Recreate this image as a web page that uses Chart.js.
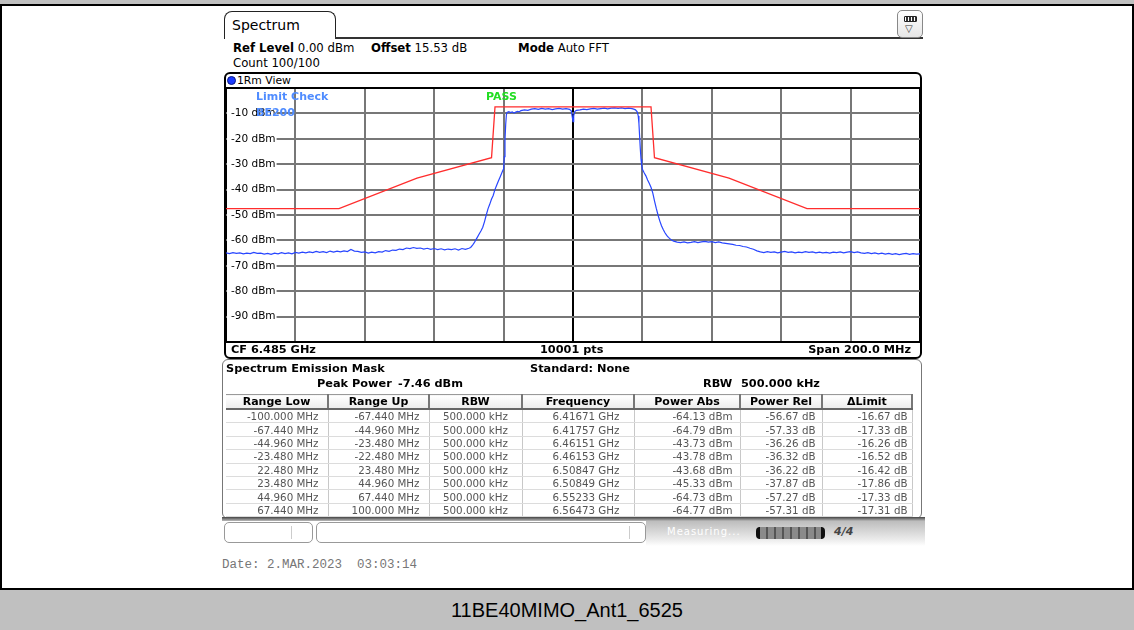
<!DOCTYPE html>
<html>
<head>
<meta charset="utf-8">
<title>11BE40MIMO_Ant1_6525</title>
<script src="https://cdn.jsdelivr.net/npm/chart.js@4.4.1/dist/chart.umd.min.js"></script>
<style>
  html, body { margin: 0; padding: 0; background: #fff; }
  body { position: relative; width: 1134px; height: 630px; overflow: hidden; font-family: "DejaVu Sans", Verdana, sans-serif; color: #000; }
  div, span, table { box-sizing: border-box; }
  .a { position: absolute; white-space: nowrap; }
  .b { font-weight: bold; }

  #frameTop { left: 0; top: 0; width: 1134px; height: 6px; background: #c0c0c0; border-bottom: 2px solid #000; }
  #frameL { left: 0; top: 6px; width: 2px; height: 584px; background: #000; }
  #frameR { left: 1132px; top: 6px; width: 2px; height: 584px; background: #000; }
  #caption { left: 0; top: 588px; width: 1134px; height: 42px; background: #c0c0c0; border-top: 2px solid #000;
             font: 20px "Liberation Sans", Arial, sans-serif; text-align: center; line-height: 41px; }

  #tab { left: 224px; top: 11px; width: 112px; height: 28px; border: 1.5px solid #222; border-bottom: none;
         border-radius: 8px 8px 0 0; font-size: 14px; padding-left: 7px; line-height: 26px; }
  #tabLine { left: 335px; top: 37px; width: 588px; height: 1.5px; background: #333; }
  #icon { left: 897px; top: 10px; width: 26px; height: 28px; border: 1px solid #888; border-radius: 5px;
          background: linear-gradient(#fff, #e6e6e6); }
  #icon .bat { position: absolute; left: 6px; top: 5px; width: 13px; height: 6px; background: #333;
               border: 1px solid #222; border-radius: 1px;
               background-image: repeating-linear-gradient(to right, #fff 0 1px, #333 1px 3px); }
  #icon .tri { position: absolute; left: 7px; top: 12px; font-size: 10px; color: #333; }

  .hdr { font-size: 11.7px; line-height: 14px; }

  #view { left: 224px; top: 72px; width: 698px; height: 287px; border: 2px solid #000; border-radius: 6px; }
  #dot { left: 227px; top: 76px; width: 9px; height: 9px; border-radius: 50%; background: #1d3cff; border: 1px solid #0a1a80; }
  #viewTitle { left: 237px; top: 74px; font-size: 10.8px; line-height: 14px; }
  #plot { left: 224px; top: 86px; width: 698px; height: 258px; }
  .cf { font-size: 11.3px; line-height: 14px; top: 343px; font-weight: bold; }

  .lim { font-size: 11px; font-weight: bold; line-height: 14px; }

  #tpanel { left: 222px; top: 359px; width: 700px; height: 160px; border: 1.5px solid #777; border-radius: 6px; }
  .tt { font-size: 11.3px; font-weight: bold; line-height: 14px; }
  #sem { position: absolute; left: 226px; top: 394px; border-collapse: collapse; table-layout: fixed; width: 686px; }
  #sem th { height: 13px; padding: 0; font-size: 11px; font-weight: bold; text-align: center; line-height: 13px;
            border-top: 1px solid #999; border-bottom: 2px solid #666; border-right: 2px solid #777;
            background: linear-gradient(#fff, #ececec); }
  #sem td { height: 12.4px; padding: 0; font-size: 10.3px; color: #555; text-align: right; line-height: 12px;
            border-right: 1px solid #c8c8c8; border-bottom: 1px solid #dcdcdc; }

  #statusEdge { left: 222px; top: 517px; width: 703px; height: 4px; background: linear-gradient(#444, #bbb); }
  .sbox { top: 522px; height: 21px; border: 1px solid #999; border-radius: 5px; background: #fff; }
  .sdiv { top: 526px; width: 1px; height: 13px; background: #ccc; }
  #meas { left: 646px; top: 521px; width: 279px; height: 25px;
          background: linear-gradient(to bottom, #bdbdbd, #ececec 75%, #fff); }
  #measTxt { left: 667px; top: 525px; font-size: 10px; color: #fff; letter-spacing: 1px; line-height: 14px; }
  #prog { left: 756px; top: 527px; width: 69px; height: 12px; border-radius: 4px; background: #2a2a2a;
          border-left: 4px solid #111; border-right: 4px solid #111;
          background-image: repeating-linear-gradient(to right, #8a8a8a 0 6px, #555 6px 8px); }
  #glyph { left: 834px; top: 525px; font-size: 11px; font-weight: bold; font-style: italic; color: #444; line-height: 14px; }

  #date { left: 222px; top: 557px; font: 12.5px "Liberation Mono", "DejaVu Sans Mono", monospace; color: #777; line-height: 16px; }
</style>
</head>
<body>
<script>
// Spectrum emission mask (limit line), offset from CF in MHz vs dBm
const limitFreq = [-100, -67.44, -44.96, -23.48, -22.48, 22.48, 23.48, 44.96, 67.44, 100];
const limitLevel = [-47.46, -47.46, -35.46, -27.46, -7.46, -7.46, -27.46, -35.46, -47.46, -47.46];

// 1Rm trace, offset from CF in MHz
const traceFreq = [
  -100, -99, -98, -97, -96, -95, -94, -93, -92, -91,
  -90, -89, -88, -87, -86, -85, -84, -83, -82, -81,
  -80, -79, -78, -77, -76, -75, -74, -73, -72, -71,
  -70, -69, -68, -67, -66, -65, -64, -63, -62, -61,
  -60, -59, -58, -57, -56, -55, -54, -53, -52, -51,
  -50, -49, -48, -47, -46, -45, -44, -43, -42, -41,
  -40, -39, -38, -37, -36, -35, -34, -33, -32, -31,
  -30, -29.5, -29, -28.5, -28, -27.5, -27, -26.5, -26, -25.5,
  -25, -24.5, -24, -23.5, -23, -22.5, -22, -21.5, -21, -20.5,
  -20, -19.8, -19.6, -19.4, -19.2, -19, -18.5, -18, -17.5, -17,
  -16.5, -16, -15.5, -15, -14, -13, -12, -11, -10, -9,
  -8, -7, -6, -5, -4, -3, -2, -1, -0.5, -0.2,
  0, 0.2, 0.5, 1, 2, 3, 4, 5, 6, 7,
  8, 9, 10, 11, 12, 13, 14, 15, 16, 17,
  17.5, 18, 18.5, 18.8, 19, 19.2, 19.4, 19.6, 19.8, 20,
  20.5, 21, 21.5, 22, 22.5, 23, 23.5, 24, 24.5, 25,
  25.5, 26, 26.5, 27, 27.5, 28, 28.5, 29, 30, 31,
  32, 33, 34, 35, 36, 37, 38, 39, 40, 41,
  42, 43, 44, 45, 46, 47, 48, 49, 50, 51,
  52, 53, 54, 55, 56, 57, 58, 59, 60, 61,
  62, 63, 64, 65, 66, 67, 68, 69, 70, 71,
  72, 73, 74, 75, 76, 77, 78, 79, 80, 81,
  82, 83, 84, 85, 86, 87, 88, 89, 90, 91,
  92, 93, 94, 95, 96, 97, 98, 99, 100
];
const traceLevel = [
  -64.9, -65.2, -64.8, -65.1, -64.9, -65.3, -65.0, -65.2, -64.7, -65.1,
  -65.0, -65.4, -65.1, -65.5, -65.0, -65.3, -64.8, -65.2, -64.9, -65.3,
  -64.7, -65.0, -64.6, -64.9, -64.5, -64.8, -64.3, -64.7, -64.4, -64.8,
  -64.2, -64.6, -64.2, -64.5, -64.1, -64.4, -63.6, -64.2, -64.3, -64.7,
  -64.5, -65.0, -64.6, -64.9, -64.4, -64.6, -64.0, -64.3, -63.8, -63.9,
  -63.4, -63.6, -63.0, -63.2, -62.8, -63.1, -63.0, -63.4, -63.1, -63.5,
  -63.2, -63.6, -63.3, -63.7, -63.4, -63.6, -63.3, -63.8, -63.2, -63.5,
  -63.1, -62.8, -62.0, -61.0, -59.8, -58.6, -57.4, -56.2, -54.8, -52.6,
  -50.0, -47.6, -45.8, -43.8, -42.3, -40.0, -38.3, -36.6, -35.0, -33.4,
  -31.8, -27.0, -20.5, -14.5, -10.6, -9.6, -9.3, -9.7, -9.4, -9.9,
  -9.5, -9.2, -9.4, -8.9, -8.6, -8.8, -8.3, -8.1, -8.4, -8.0,
  -8.3, -8.1, -8.5, -8.2, -8.0, -8.3, -8.1, -8.4, -9.0, -11.5,
  -13.2, -11.0, -9.3, -8.8, -8.6, -8.3, -8.5, -8.2, -8.0, -8.3,
  -8.1, -7.9, -8.2, -7.9, -7.8, -8.0, -7.8, -8.1, -7.9, -8.1,
  -8.3, -8.6, -9.4, -11.0, -14.0, -19.0, -24.0, -28.0, -30.5, -32.0,
  -33.4, -34.6, -36.2, -37.6, -39.2, -41.4, -44.5, -47.4, -50.0, -52.3,
  -54.2, -55.7, -57.0, -58.0, -58.8, -59.4, -59.9, -60.3, -60.7, -60.9,
  -60.6, -61.0, -60.8, -60.5, -60.9, -60.6, -60.4, -60.7, -60.5, -60.9,
  -60.6, -61.0, -61.2, -61.4, -61.6, -61.9, -62.0, -62.4, -62.6, -63.1,
  -63.5, -64.1, -64.5, -64.8, -64.4, -64.7, -64.5, -64.9, -64.6, -64.3,
  -64.7, -64.5, -64.9, -64.6, -64.8, -64.4, -64.7, -64.5, -64.9, -64.6,
  -64.9, -64.7, -65.0, -64.6, -64.8, -64.5, -64.9, -64.6, -64.4, -64.8,
  -64.5, -64.9, -65.1, -64.8, -65.2, -64.9, -65.3, -65.0, -65.4, -65.1,
  -65.5, -65.2, -65.6, -65.3, -65.1, -65.5, -65.2, -65.4, -65.3
];

// SEM result table
const semHeaders = ['Range Low', 'Range Up', 'RBW', 'Frequency', 'Power Abs', 'Power Rel', '\u0394Limit'];
const rangeLow = ['-100.000 MHz', '-67.440 MHz', '-44.960 MHz', '-23.480 MHz', '22.480 MHz', '23.480 MHz', '44.960 MHz', '67.440 MHz'];
const rangeUp = ['-67.440 MHz', '-44.960 MHz', '-23.480 MHz', '-22.480 MHz', '23.480 MHz', '44.960 MHz', '67.440 MHz', '100.000 MHz'];
const rbw = ['500.000 kHz', '500.000 kHz', '500.000 kHz', '500.000 kHz', '500.000 kHz', '500.000 kHz', '500.000 kHz', '500.000 kHz'];
const peakFreq = ['6.41671 GHz', '6.41757 GHz', '6.46151 GHz', '6.46153 GHz', '6.50847 GHz', '6.50849 GHz', '6.55233 GHz', '6.56473 GHz'];
const powerAbs = ['-64.13 dBm', '-64.79 dBm', '-43.73 dBm', '-43.78 dBm', '-43.68 dBm', '-45.33 dBm', '-64.73 dBm', '-64.77 dBm'];
const powerRel = ['-56.67 dB', '-57.33 dB', '-36.26 dB', '-36.32 dB', '-36.22 dB', '-37.87 dB', '-57.27 dB', '-57.31 dB'];
const deltaLimit = ['-16.67 dB', '-17.33 dB', '-16.26 dB', '-16.52 dB', '-16.42 dB', '-17.86 dB', '-17.33 dB', '-17.31 dB'];
</script>

<div id="frameTop" class="a"></div>
<div id="frameL" class="a"></div>
<div id="frameR" class="a"></div>

<div id="tab" class="a">Spectrum</div>
<div id="tabLine" class="a"></div>
<div id="icon" class="a"><div class="bat"></div><div class="tri">&#9661;</div></div>

<div class="a hdr" style="left:233px; top:41px"><b>Ref Level</b> 0.00 dBm</div>
<div class="a hdr" style="left:371px; top:41px"><b>Offset</b> 15.53 dB</div>
<div class="a hdr" style="left:518px; top:41px"><b>Mode</b> Auto FFT</div>
<div class="a hdr" style="left:233px; top:56px">Count 100/100</div>

<div id="view" class="a"></div>
<div id="dot" class="a"></div>
<div id="viewTitle" class="a">1Rm View</div>
<div id="plot" class="a"><canvas id="semChart" width="698" height="258"></canvas></div>
<div class="a lim" style="left:256px; top:90px; color:#4f8cff">Limit Check</div>
<div class="a lim" style="left:256px; top:106px; color:#4f8cff">BE200</div>
<div class="a lim" style="left:486px; top:90px; color:#22dd22">PASS</div>
<div class="a cf" style="left:231px">CF 6.485 GHz</div>
<div class="a cf" style="left:540px">10001 pts</div>
<div class="a cf" style="right:223px">Span 200.0 MHz</div>

<div id="tpanel" class="a"></div>
<div class="a tt" style="left:226px; top:362px">Spectrum Emission Mask</div>
<div class="a tt" style="left:530px; top:362px">Standard: None</div>
<div class="a tt" style="left:317px; top:377px">Peak Power</div>
<div class="a tt" style="left:398px; top:377px">-7.46 dBm</div>
<div class="a tt" style="left:703px; top:377px">RBW</div>
<div class="a tt" style="left:741px; top:377px">500.000 kHz</div>
<table id="sem">
  <colgroup>
    <col style="width:102px"><col style="width:101px"><col style="width:93px"><col style="width:112px">
    <col style="width:106px"><col style="width:82px"><col style="width:90px">
  </colgroup>
  <thead><tr id="semHead"></tr></thead>
  <tbody id="semBody"></tbody>
</table>

<div id="statusEdge" class="a"></div>
<div class="a sbox" style="left:224px; width:89px"></div>
<div class="a sdiv" style="left:291px"></div>
<div class="a sbox" style="left:316px; width:330px"></div>
<div class="a sdiv" style="left:629px"></div>
<div id="meas" class="a"></div>
<div id="measTxt" class="a">Measuring...</div>
<div id="prog" class="a"></div>
<div id="glyph" class="a">4/4</div>

<div id="date" class="a">Date: 2.MAR.2023&nbsp; 03:03:14</div>
<div id="caption" class="a">11BE40MIMO_Ant1_6525</div>

<script>
// result table rows
const padRight = [9, 9, null, 14, 7, 6, 4];
const head = document.getElementById('semHead');
semHeaders.forEach(h => {
    const th = document.createElement('th');
    th.textContent = h;
    head.appendChild(th);
});
const body = document.getElementById('semBody');
const columns = [rangeLow, rangeUp, rbw, peakFreq, powerAbs, powerRel, deltaLimit];
rangeLow.forEach((_, r) => {
    const tr = document.createElement('tr');
    columns.forEach((col, c) => {
        const td = document.createElement('td');
        td.textContent = col[r];
        if (padRight[c] === null) {
            td.style.textAlign = 'center';
        } else {
            td.style.paddingRight = padRight[c] + 'px';
        }
        tr.appendChild(td);
    });
    body.appendChild(tr);
});

// spectrum plot
const traceData = traceFreq.map((f, i) => ({ x: f, y: traceLevel[i] }));
const limitData = limitFreq.map((f, i) => ({ x: f, y: limitLevel[i] }));

const edgeOrCenter = v => v === 0 || v === 100 || v === -100;

new Chart(document.getElementById('semChart').getContext('2d'), {
    type: 'line',
    data: {
        datasets: [
            {
                label: 'Limit',
                data: limitData,
                borderColor: '#ff2d2d',
                borderWidth: 1.3,
                pointRadius: 0,
                tension: 0
            },
            {
                label: '1Rm',
                data: traceData,
                borderColor: '#2846ff',
                borderWidth: 1.2,
                pointRadius: 0,
                tension: 0
            }
        ]
    },
    options: {
        responsive: false,
        animation: false,
        layout: { padding: 2 },
        plugins: {
            legend: { display: false },
            tooltip: { enabled: false }
        },
        scales: {
            x: {
                type: 'linear',
                min: -100,
                max: 100,
                ticks: { display: false, stepSize: 20 },
                border: { display: false },
                grid: {
                    drawTicks: false,
                    color: c => edgeOrCenter(c.tick.value) ? '#000' : '#777',
                    lineWidth: 2
                }
            },
            y: {
                min: -100,
                max: 0,
                border: { display: false },
                grid: {
                    drawTicks: false,
                    color: c => edgeOrCenter(c.tick.value) ? '#000' : '#777',
                    lineWidth: 2
                },
                ticks: {
                    stepSize: 10,
                    mirror: true,
                    padding: 5,
                    color: '#000',
                    font: { family: 'DejaVu Sans', size: 10.5 },
                    callback: v => (v < 0 && v > -100) ? v + ' dBm' : '',
                    showLabelBackdrop: c => c.tick.value < 0 && c.tick.value > -100,
                    backdropColor: '#fff',
                    backdropPadding: { left: 4, right: 1, top: 0, bottom: 0 }
                },
                afterFit: s => {
                    s.width = 0;
                    s.paddingTop = 0;
                    s.paddingBottom = 0;
                }
            }
        }
    }
});
</script>
</body>
</html>
